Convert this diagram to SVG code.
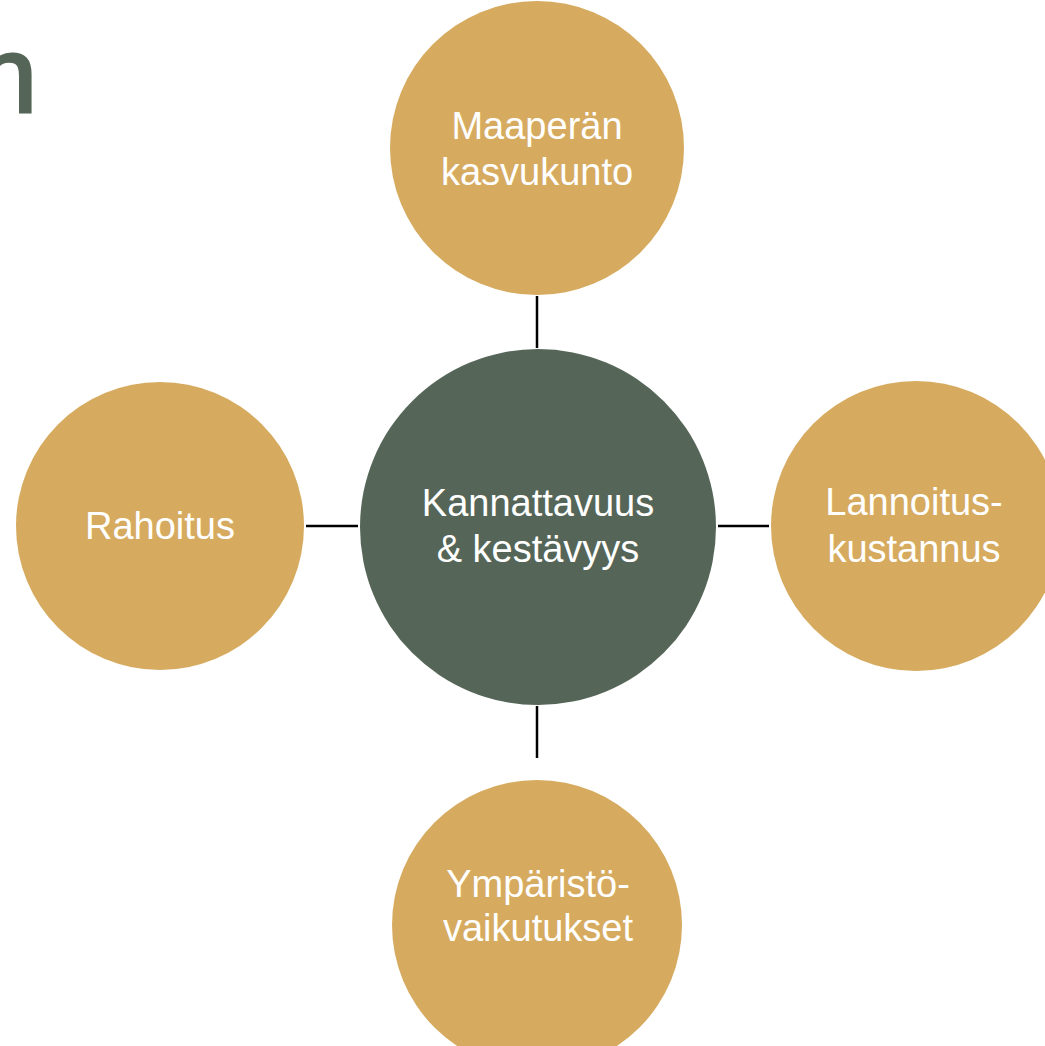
<svg xmlns="http://www.w3.org/2000/svg" width="1045" height="1046" viewBox="0 0 1045 1046">
<style>
.gold{fill:#D6AB60}
.green{fill:#556658}
.lbl{font-family:"Liberation Sans",Arial,sans-serif;font-size:38px;fill:#ffffff;text-anchor:middle}
.conn line{stroke:#000000;stroke-width:2.5}
</style>
<rect width="1045" height="1046" fill="#ffffff"/>
<text x="-23" y="112" font-family="Liberation Sans,Arial,sans-serif" font-size="108" fill="#556658" stroke="#556658" stroke-width="3">n</text>
<g class="conn" id="connectors">
<line x1="537" y1="296" x2="537" y2="348"/>
<line x1="306" y1="526" x2="358" y2="526"/>
<line x1="718" y1="526" x2="769" y2="526"/>
<line x1="537" y1="706" x2="537" y2="758"/>
</g>
<g id="center">
<circle class="green" cx="538" cy="527" r="178"/>
<text class="lbl"><tspan x="538" y="516">Kannattavuus</tspan><tspan x="538" y="562">&amp; kestävyys</tspan></text>
</g>
<g id="top">
<circle class="gold" cx="537" cy="148" r="147"/>
<text class="lbl"><tspan x="537" y="139">Maaperän</tspan><tspan x="537" y="185">kasvukunto</tspan></text>
</g>
<g id="left">
<circle class="gold" cx="160" cy="526" r="144"/>
<text class="lbl" x="160" y="539">Rahoitus</text>
</g>
<g id="right">
<circle class="gold" cx="916" cy="526" r="145"/>
<text class="lbl"><tspan x="914" y="515">Lannoitus-</tspan><tspan x="914" y="562">kustannus</tspan></text>
</g>
<g id="bottom">
<circle class="gold" cx="537" cy="925" r="145"/>
<text class="lbl"><tspan x="538" y="897">Ympäristö-</tspan><tspan x="538" y="941">vaikutukset</tspan></text>
</g>
</svg>
